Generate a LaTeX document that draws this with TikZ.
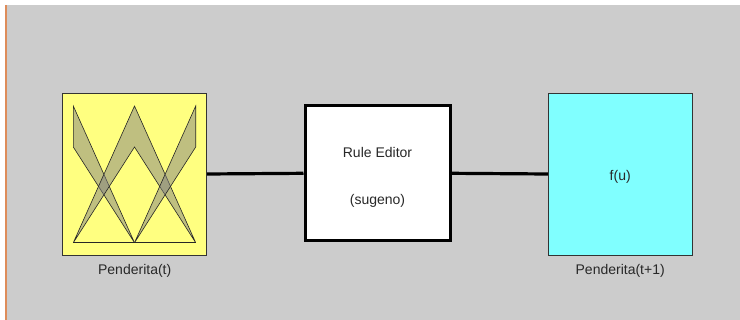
\documentclass[tikz,border=0pt]{standalone}
\usepackage{fontspec}
\setmainfont{Liberation Sans}
\usepackage{xcolor}
\definecolor{CanvasGray}{RGB}{204,204,204}
\definecolor{FrameEdge}{RGB}{222,140,90}
\definecolor{InYellow}{RGB}{255,255,128}
\definecolor{OutCyan}{RGB}{128,255,255}
\definecolor{LabelInk}{RGB}{40,40,40}

\begin{document}
\begin{tikzpicture}[x=1pt,y=-1pt,
    fisbox/.style={draw=black!80,line width=0.8pt,inner sep=0pt,
      minimum width=144pt,minimum height=162pt},
    rulebox/.style={draw=black,fill=white,line width=3pt,inner sep=0pt,
      minimum width=145pt,minimum height=135pt},
    blocktext/.style={align=center,font=\fontsize{14}{16}\selectfont\color{LabelInk}},
    varlabel/.style={font=\fontsize{14}{16}\selectfont\color{LabelInk}},
    mfband/.style={fill=gray,fill opacity=0.5,draw=black!85,line width=0.6pt},
    wire/.style={line width=3.2pt}]
  % canvas
  \useasboundingbox (0,0) rectangle (740,320);
  \fill[white] (0,0) rectangle (740,320);
  \fill[CanvasGray] (6,5) rectangle (740,320);
  \draw[FrameEdge,line width=1.5pt] (6,5) -- (6,320);

  % the three blocks
  \node[fisbox,fill=InYellow] (inp) at (134.7,174) {};
  \node[rulebox] (rule) at (377.5,173.3) {};
  \node[blocktext] (ruletext) at ([yshift=-4pt]rule.center) {Rule Editor\\[31pt](sugeno)};
  \node[fisbox,fill=OutCyan] (outp) at (620.2,174) {};
  \node[blocktext] (outtext) at ([yshift=-3pt]outp.center) {f(u)};

  % membership functions of the input
  \draw[mfband] (73.3,106) -- (73.3,147) -- (134.5,242.7) -- cycle;
  \draw[mfband] (73.3,242.7) -- (134.5,106) -- (195.7,242.7)
    -- (134.5,147) -- cycle;
  \draw[mfband] (195.7,106) -- (195.7,147) -- (134.5,242.7) -- cycle;
  \draw[black!85,line width=0.6pt] (73.3,242.7) -- (195.7,242.7);

  % names under the variables
  \node[varlabel,anchor=north] (inname) at ([yshift=-5pt]inp.south) {Penderita(t)};
  \node[varlabel,anchor=north] (outname) at ([yshift=-5pt]outp.south) {Penderita(t+1)};

  % connections
  \draw[wire] (inp.east) -- (rule.west);
  \draw[wire] (rule.east) -- (outp.west);
\end{tikzpicture}
\end{document}
